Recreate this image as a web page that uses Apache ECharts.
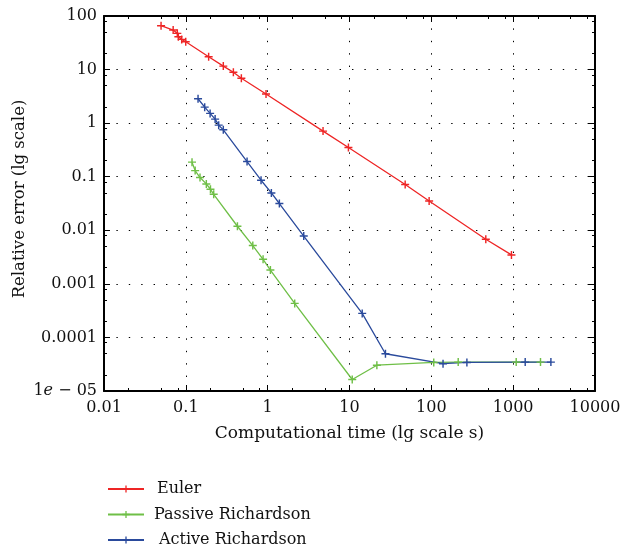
<!DOCTYPE html>
<html>
<head>
<meta charset="utf-8">
<script src="https://cdn.jsdelivr.net/npm/echarts@6/dist/echarts.min.js"></script>
<style>html,body{margin:0;padding:0;background:#fff}#c{width:626px;height:548px}</style>
</head>
<body>
<div id="c"></div>
<script>
// ---- data ----
const eulerX = [0.0498, 0.070, 0.0787, 0.081, 0.089, 0.0997, 0.19, 0.287, 0.381, 0.477, 0.955, 4.75, 9.7, 47.9, 94, 463, 953];
const eulerY = [66, 54.7, 47.4, 41, 36.6, 33, 17.4, 11.6, 8.9, 6.9, 3.5, 0.71, 0.35, 0.0714, 0.0353, 0.0068, 0.00347];

const passiveX = [0.119, 0.13, 0.149, 0.178, 0.2, 0.219, 0.427, 0.658, 0.879, 1.08, 2.14, 10.8, 21.6, 107, 213, 1089, 2158];
const passiveY = [0.187, 0.13, 0.0966, 0.0734, 0.0584, 0.047, 0.0119, 0.00518, 0.00287, 0.00181, 0.000432, 1.64e-5, 3.03e-5, 3.41e-5, 3.46e-5, 3.46e-5, 3.46e-5];

const activeX = [0.141, 0.170, 0.198, 0.228, 0.252, 0.287, 0.56, 0.83, 1.11, 1.39, 2.76, 14.3, 27.5, 139, 272, 1403, 2891];
const activeY = [2.85, 1.99, 1.52, 1.19, 0.918, 0.75, 0.192, 0.086, 0.0498, 0.0316, 0.0078, 0.000281, 4.96e-5, 3.23e-5, 3.41e-5, 3.46e-5, 3.46e-5];

const seriesNames = ['Euler', 'Passive Richardson', 'Active Richardson'];

const xTicks = [0.01, 0.1, 1, 10, 100, 1000, 10000];
const xTickLabels = ['0.01', '0.1', '1', '10', '100', '1000', '10000'];
const yTicks = [1e-5, 1e-4, 1e-3, 0.01, 0.1, 1, 10, 100];
const yTickLabels = ['1{i|e} − 05', '0.0001', '0.001', '0.01', '0.1', '1', '10', '100'];
const minorMultipliers = [2, 5, 8];

const xName = 'Computational time (lg scale s)';
const yName = 'Relative error (lg scale)';

// ---- helpers ----
function minorOf(majors) {
  const out = [];
  for (let i = 0; i < majors.length - 1; i++) {
    minorMultipliers.forEach(m => out.push(+(majors[i] * m).toPrecision(6)));
  }
  return out;
}
function labelFor(ticks, labels) {
  return function (v) {
    for (let i = 0; i < ticks.length; i++) {
      if (Math.abs(Math.log10(v) - Math.log10(ticks[i])) < 1e-6) return labels[i];
    }
    return '';
  };
}
function zip(xs, ys) { return xs.map((x, i) => [x, ys[i]]); }

const FONT = 'DejaVu Serif';
const TXT = '#111';
const plus = 'path://M0,4.1 L10,4.1 L10,5.9 L0,5.9 Z M4.1,0 L5.9,0 L5.9,10 L4.1,10 Z';
const axisLineStyle = { color: '#000', width: 2 };
const gridDots = { color: '#000', width: 1, type: [1.4, 11] };

function xAxisDef(pos, main, minor) {
  return {
    type: 'log', logBase: 10, min: 0.01, max: 10000, position: pos, gridIndex: 0,
    axisLine: { show: !minor, onZero: false, lineStyle: axisLineStyle },
    axisTick: { show: true, inside: true, length: minor ? 3 : 6, lineStyle: { color: '#000', width: 1 },
      customValues: minor ? minorOf(xTicks) : xTicks },
    axisLabel: main ? { show: true, customValues: xTicks, formatter: labelFor(xTicks, xTickLabels),
      fontFamily: FONT, fontSize: 16, color: TXT, margin: 9 } : { show: false },
    splitLine: { show: main, lineStyle: gridDots },
    minorTick: { show: false }, minorSplitLine: { show: false },
    name: main ? xName : '', nameLocation: 'middle', nameGap: 34, nameMoveOverlap: false,
    nameTextStyle: { fontFamily: FONT, fontSize: 17, color: TXT }
  };
}
function yAxisDef(pos, main, minor) {
  return {
    type: 'log', logBase: 10, min: 1e-5, max: 100, position: pos, gridIndex: 0,
    axisLine: { show: !minor, onZero: false, lineStyle: axisLineStyle },
    axisTick: { show: true, inside: true, length: minor ? 3 : 6, lineStyle: { color: '#000', width: 1 },
      customValues: minor ? minorOf(yTicks) : yTicks },
    axisLabel: main ? { show: true, customValues: yTicks, formatter: labelFor(yTicks, yTickLabels),
      fontFamily: FONT, fontSize: 16, color: TXT, margin: 7,
      rich: { i: { fontFamily: FONT, fontStyle: 'italic', fontSize: 16, color: TXT } } } : { show: false },
    splitLine: { show: main, lineStyle: gridDots },
    minorTick: { show: false }, minorSplitLine: { show: false },
    name: main ? yName : '', nameLocation: 'middle', nameGap: 76, nameMoveOverlap: false,
    nameTextStyle: { fontFamily: FONT, fontSize: 16.5, color: TXT, padding: [0, 0, 0, 9] }
  };
}

const colors = ['#ee2525', '#6fbf47', '#2a4a9c'];
function mkSeries(name, data, color) {
  return {
    name, type: 'line', data, xAxisIndex: 0, yAxisIndex: 0,
    symbol: plus, symbolSize: 8, showSymbol: true,
    lineStyle: { color, width: 1.3 }, itemStyle: { color, borderWidth: 0 },
    animation: false, z: 5
  };
}
function mkLegend(name, top, textPad) {
  return {
    orient: 'horizontal', left: 107, top, padding: 0,
    itemWidth: 36, itemHeight: 9,
    textStyle: { fontFamily: FONT, fontSize: 16, color: TXT, padding: [0, 0, 0, textPad] },
    data: [name]
  };
}

const chart = echarts.init(document.getElementById('c'), null, { renderer: 'canvas' });
chart.setOption({
  backgroundColor: '#fff',
  animation: false,
  color: colors,
  grid: { left: 104, right: 31, top: 16, bottom: 157, containLabel: false },
  xAxis: [
    xAxisDef('bottom', true, false),
    xAxisDef('bottom', false, true),
    xAxisDef('top', false, false),
    xAxisDef('top', false, true)
  ],
  yAxis: [
    yAxisDef('left', true, false),
    yAxisDef('left', false, true),
    yAxisDef('right', false, false),
    yAxisDef('right', false, true)
  ],
  legend: [
    mkLegend(seriesNames[0], 481, 8),
    mkLegend(seriesNames[1], 506.5, 5),
    mkLegend(seriesNames[2], 532, 10)
  ],
  series: [
    mkSeries(seriesNames[0], zip(eulerX, eulerY), colors[0]),
    mkSeries(seriesNames[1], zip(passiveX, passiveY), colors[1]),
    mkSeries(seriesNames[2], zip(activeX, activeY), colors[2])
  ]
});
</script>
</body>
</html>
